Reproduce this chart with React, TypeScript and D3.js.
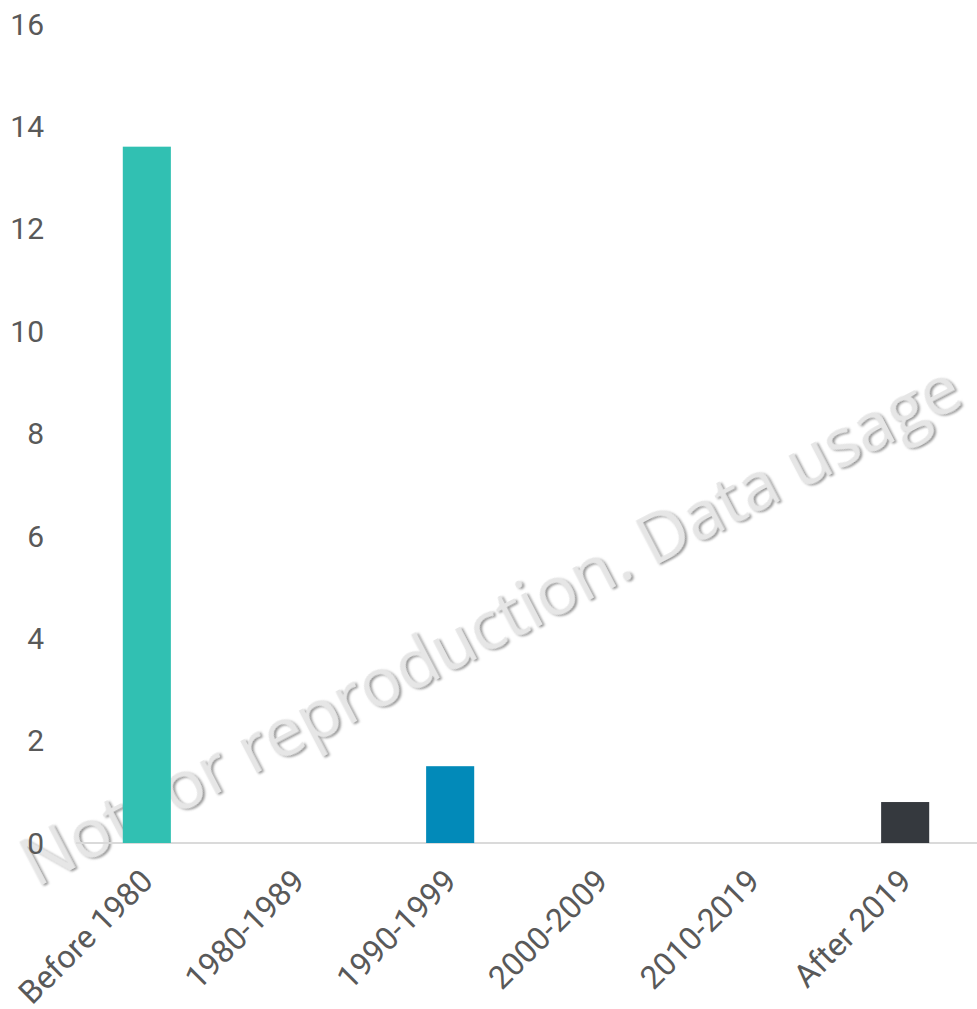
import React, { useEffect, useRef } from "react";
import * as d3 from "d3";

const categories = ["Before 1980", "1980-1989", "1990-1999", "2000-2009", "2010-2019", "After 2019"];
const values = [13.6, 0, 1.5, 0, 0, 0.8];
const barColors = ["#31c0b2", "#31c0b2", "#028ab9", "#028ab9", "#35393e", "#35393e"];
const yTicks = [0, 2, 4, 6, 8, 10, 12, 14, 16];
const watermark = "Not for reproduction. Data usage";

const width = 977;
const height = 1009;

const App = () => {
  const ref = useRef(null);

  useEffect(() => {
    const svg = d3.select(ref.current);
    svg.selectAll("*").remove();

    const x = d3
      .scaleBand()
      .domain(categories)
      .range([71, 981])
      .paddingInner(0.683)
      .paddingOuter(0.3415);
    const y = d3.scaleLinear().domain([0, 16]).range([843, 23.8]);

    const defs = svg.append("defs");
    const f = defs.append("filter").attr("id", "wmShadow").attr("x", "-5%").attr("y", "-20%").attr("width", "110%").attr("height", "140%");
    f.append("feDropShadow")
      .attr("dx", 1.5)
      .attr("dy", 2)
      .attr("stdDeviation", 1.2)
      .attr("flood-color", "#8a8a8a")
      .attr("flood-opacity", 0.9);

    // watermark sits behind the chart
    svg
      .append("text")
      .attr("transform", "translate(36,888) rotate(-27.5)")
      .style("font-family", "'Open Sans', sans-serif")
      .style("font-size", "68px")
      .style("fill", "#e6e6e6")
      .attr("filter", "url(#wmShadow)")
      .text(watermark);

    // y labels
    svg
      .append("g")
      .selectAll("text")
      .data(yTicks)
      .enter()
      .append("text")
      .attr("x", 44)
      .attr("y", d => y(d))
      .attr("dy", "0.36em")
      .attr("text-anchor", "end")
      .style("font-family", "Roboto, sans-serif")
      .style("font-size", "30px")
      .style("fill", "#595959")
      .text(d => d);

    // baseline
    svg
      .append("line")
      .attr("x1", 76)
      .attr("x2", width)
      .attr("y1", y(0))
      .attr("y2", y(0))
      .attr("stroke", "#dadada")
      .attr("stroke-width", 2);

    // bars
    svg
      .append("g")
      .selectAll("rect")
      .data(values)
      .enter()
      .append("rect")
      .attr("x", (d, i) => x(categories[i]))
      .attr("width", x.bandwidth())
      .attr("y", d => y(d))
      .attr("height", d => y(0) - y(d))
      .attr("fill", (d, i) => barColors[i]);

    // x labels
    svg
      .append("g")
      .selectAll("text")
      .data(categories)
      .enter()
      .append("text")
      .attr("transform", d => `translate(${x(d) + x.bandwidth() / 2 + 8},${y(0) + 40}) rotate(-45)`)
      .attr("text-anchor", "end")
      .style("font-family", "Roboto, sans-serif")
      .style("font-size", "32px")
      .style("fill", "#595959")
      .text(d => d);
  }, []);

  return (
    <svg
      ref={ref}
      width={width}
      height={height}
      style={{ position: "absolute", left: 0, top: 0, background: "#fff" }}
    />
  );
};

export default App;
